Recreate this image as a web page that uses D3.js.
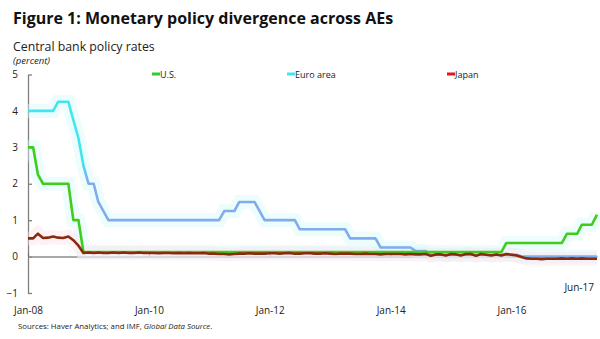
<!DOCTYPE html>
<html>
<head>
<meta charset="utf-8">
<script src="https://cdn.jsdelivr.net/npm/d3@7"></script>
<style>
  body { margin: 0; background: #fff; }
  svg { font-family: "Open Sans", sans-serif; }
</style>
</head>
<body>
<div id="chart"></div>
<script>
// 1: DATA (monthly, Jan-08 .. Jun-17, end of month policy rates in percent)
const seriesNames = ["U.S.", "Euro area", "Japan"];

const usRates = [
  3.0, 3.0, 2.25, 2.0, 2.0, 2.0, 2.0, 2.0, 2.0, 1.0, 1.0, 0.125,
  0.125, 0.125, 0.125, 0.125, 0.125, 0.125, 0.125, 0.125, 0.125, 0.125, 0.125, 0.125,
  0.125, 0.125, 0.125, 0.125, 0.125, 0.125, 0.125, 0.125, 0.125, 0.125, 0.125, 0.125,
  0.125, 0.125, 0.125, 0.125, 0.125, 0.125, 0.125, 0.125, 0.125, 0.125, 0.125, 0.125,
  0.125, 0.125, 0.125, 0.125, 0.125, 0.125, 0.125, 0.125, 0.125, 0.125, 0.125, 0.125,
  0.125, 0.125, 0.125, 0.125, 0.125, 0.125, 0.125, 0.125, 0.125, 0.125, 0.125, 0.125,
  0.125, 0.125, 0.125, 0.125, 0.125, 0.125, 0.125, 0.125, 0.125, 0.125, 0.125, 0.125,
  0.125, 0.125, 0.125, 0.125, 0.125, 0.125, 0.125, 0.125, 0.125, 0.125, 0.125, 0.375,
  0.375, 0.375, 0.375, 0.375, 0.375, 0.375, 0.375, 0.375, 0.375, 0.375, 0.375, 0.625,
  0.625, 0.625, 0.875, 0.875, 0.875, 1.15
];

const euroRates = [
  4.0, 4.0, 4.0, 4.0, 4.0, 4.0, 4.25, 4.25, 4.25, 3.75, 3.25, 2.5,
  2.0, 2.0, 1.5, 1.25, 1.0, 1.0, 1.0, 1.0, 1.0, 1.0, 1.0, 1.0,
  1.0, 1.0, 1.0, 1.0, 1.0, 1.0, 1.0, 1.0, 1.0, 1.0, 1.0, 1.0,
  1.0, 1.0, 1.0, 1.25, 1.25, 1.25, 1.5, 1.5, 1.5, 1.5, 1.25, 1.0,
  1.0, 1.0, 1.0, 1.0, 1.0, 1.0, 0.75, 0.75, 0.75, 0.75, 0.75, 0.75,
  0.75, 0.75, 0.75, 0.75, 0.5, 0.5, 0.5, 0.5, 0.5, 0.5, 0.25, 0.25,
  0.25, 0.25, 0.25, 0.25, 0.25, 0.15, 0.15, 0.15, 0.05, 0.05, 0.05, 0.05,
  0.05, 0.05, 0.05, 0.05, 0.05, 0.05, 0.05, 0.05, 0.05, 0.05, 0.05, 0.05,
  0.05, 0.05, 0.0, 0.0, 0.0, 0.0, 0.0, 0.0, 0.0, 0.0, 0.0, 0.0,
  0.0, 0.0, 0.0, 0.0, 0.0, 0.0
];

const japanRates = [
  0.50, 0.50, 0.63, 0.51, 0.52, 0.55, 0.52, 0.51, 0.55, 0.45, 0.30, 0.10,
  0.11, 0.10, 0.11, 0.10, 0.10, 0.11, 0.10, 0.11, 0.10, 0.10, 0.11, 0.10,
  0.10, 0.10, 0.09, 0.10, 0.10, 0.09, 0.10, 0.09, 0.10, 0.09, 0.09, 0.10,
  0.08, 0.08, 0.07, 0.07, 0.06, 0.07, 0.08, 0.08, 0.09, 0.08, 0.08, 0.08,
  0.09, 0.09, 0.08, 0.09, 0.10, 0.08, 0.08, 0.09, 0.09, 0.08, 0.08, 0.09,
  0.08, 0.07, 0.08, 0.08, 0.08, 0.07, 0.07, 0.08, 0.07, 0.07, 0.06, 0.07,
  0.07, 0.07, 0.07, 0.06, 0.07, 0.06, 0.06, 0.07, 0.02, 0.06, 0.06, 0.03,
  0.07, 0.06, 0.03, 0.07, 0.07, 0.02, 0.07, 0.05, 0.03, 0.06, 0.03, 0.07,
  0.05, 0.03, -0.01, -0.05, -0.06, -0.06, -0.07, -0.06, -0.06, -0.06, -0.05, -0.06,
  -0.05, -0.06, -0.05, -0.06, -0.06, -0.06
];

const xTickLabels = ["Jan-08", "Jan-10", "Jan-12", "Jan-14", "Jan-16"];
const xEndLabel = "Jun-17";
const yTicks = [-1, 0, 1, 2, 3, 4, 5];

// 2: SETUP
const W = 600, H = 339;
const parseLabel = d3.timeParse("%b-%y");
const months = d3.timeMonth.range(new Date(2008, 0, 1), new Date(2017, 6, 1));

const svg = d3.select("#chart").append("svg")
  .attr("width", W).attr("height", H);

const x = d3.scaleTime()
  .domain([months[0], months[months.length - 1]])
  .range([28, 597]);

const y = d3.scaleLinear()
  .domain([-1, 5])
  .range([293, 74.5]);

// titles
svg.append("text")
  .attr("x", 13).attr("y", 24)
  .attr("font-size", 16).attr("font-weight", "bold")
  .attr("fill", "#111")
  .text("Figure 1: Monetary policy divergence across AEs");

svg.append("text")
  .attr("x", 13).attr("y", 51)
  .attr("font-size", 12.3).attr("fill", "#222")
  .text("Central bank policy rates");

svg.append("text")
  .attr("x", 13).attr("y", 64)
  .attr("font-size", 9.5).attr("font-style", "italic").attr("fill", "#222")
  .text("(percent)");

// gradient for the euro line (cyan at the top, light blue below)
const grad = svg.append("defs").append("linearGradient")
  .attr("id", "euroGrad")
  .attr("gradientUnits", "userSpaceOnUse")
  .attr("x1", 0).attr("x2", 0)
  .attr("y1", y(2.6)).attr("y2", y(2.1));
grad.append("stop").attr("offset", 0).attr("stop-color", "#3ee6ee");
grad.append("stop").attr("offset", 1).attr("stop-color", "#7eacef");

// 3: AXES
const yAxis = svg.append("g")
  .attr("transform", `translate(${x.range()[0]},0)`)
  .call(d3.axisLeft(y).tickValues(yTicks).tickFormat(d3.format("d"))
    .tickSize(-4).tickPadding(10).tickSizeOuter(0));
yAxis.select(".domain").attr("stroke", "#7f7f7f").attr("stroke-width", 1.3);
yAxis.selectAll(".tick line").attr("stroke", "#7f7f7f").attr("stroke-width", 1.3);
yAxis.selectAll(".tick text")
  .attr("font-size", 10).attr("fill", "#222")
  .attr("font-family", "Open Sans, sans-serif");

const xAxis = svg.append("g")
  .attr("transform", `translate(0,${y(0)})`)
  .call(d3.axisBottom(x)
    .tickValues(xTickLabels.map(parseLabel))
    .tickSize(-3).tickSizeOuter(0).tickFormat(""));
xAxis.select(".domain").attr("stroke", "#8c8c8c").attr("stroke-width", 1.5);
xAxis.selectAll(".tick line").attr("stroke", "#666");

const xLabels = svg.append("g")
  .attr("transform", "translate(0,300)")
  .call(d3.axisBottom(x)
    .tickValues(xTickLabels.map(parseLabel))
    .tickSize(0).tickPadding(7)
    .tickFormat(d3.timeFormat("%b-%y")));
xLabels.select(".domain").remove();
xLabels.selectAll("text")
  .attr("font-size", 10).attr("fill", "#222")
  .attr("font-family", "Open Sans, sans-serif");

svg.append("text")
  .attr("x", x(parseLabel(xEndLabel)) - 3).attr("y", 290.5)
  .attr("text-anchor", "end")
  .attr("font-size", 10).attr("fill", "#222")
  .text(xEndLabel);

// 4: LINES
const line = d3.line()
  .x((d, i) => x(months[i]))
  .y(d => y(d));

const series = [
  { name: seriesNames[1], values: euroRates, color: "url(#euroGrad)", halo: "#d6fafc", key: "#3ee6ee" },
  { name: seriesNames[0], values: usRates, color: "#3fcc1c", halo: "#d6fafc", key: "#2ecc2e" },
  { name: seriesNames[2], values: japanRates, color: "#8a2a0c", halo: "#fde3ee", key: "#e8141e" }
];

svg.append("g").selectAll("path")
  .data(series)
  .join("path")
  .attr("d", d => line(d.values))
  .attr("fill", "none")
  .attr("stroke", d => d.halo)
  .attr("stroke-width", 14)
  .attr("stroke-opacity", 0.45);

svg.append("g").selectAll("path")
  .data(series)
  .join("path")
  .attr("d", d => line(d.values))
  .attr("fill", "none")
  .attr("stroke", d => d.color)
  .attr("stroke-width", 2.6)
  .attr("stroke-linejoin", "round");

// 5: LEGEND
const legendPos = { "U.S.": 152, "Euro area": 287, "Japan": 447 };
const legend = svg.append("g").selectAll("g")
  .data(series)
  .join("g")
  .attr("transform", d => `translate(${legendPos[d.name]},74)`);

legend.append("line")
  .attr("x1", 0).attr("x2", 8)
  .attr("stroke", d => d.key)
  .attr("stroke-width", 3);

legend.append("text")
  .attr("x", 8).attr("y", 3.5)
  .attr("font-size", 9).attr("fill", "#222")
  .text(d => d.name);

// 6: SOURCE NOTE
const note = svg.append("text")
  .attr("x", 18).attr("y", 328.5)
  .attr("font-size", 7.8).attr("fill", "#222");
note.append("tspan").text("Sources: Haver Analytics; and IMF, ");
note.append("tspan").attr("font-style", "italic").text("Global Data Source");
note.append("tspan").text(".");
</script>
</body>
</html>
